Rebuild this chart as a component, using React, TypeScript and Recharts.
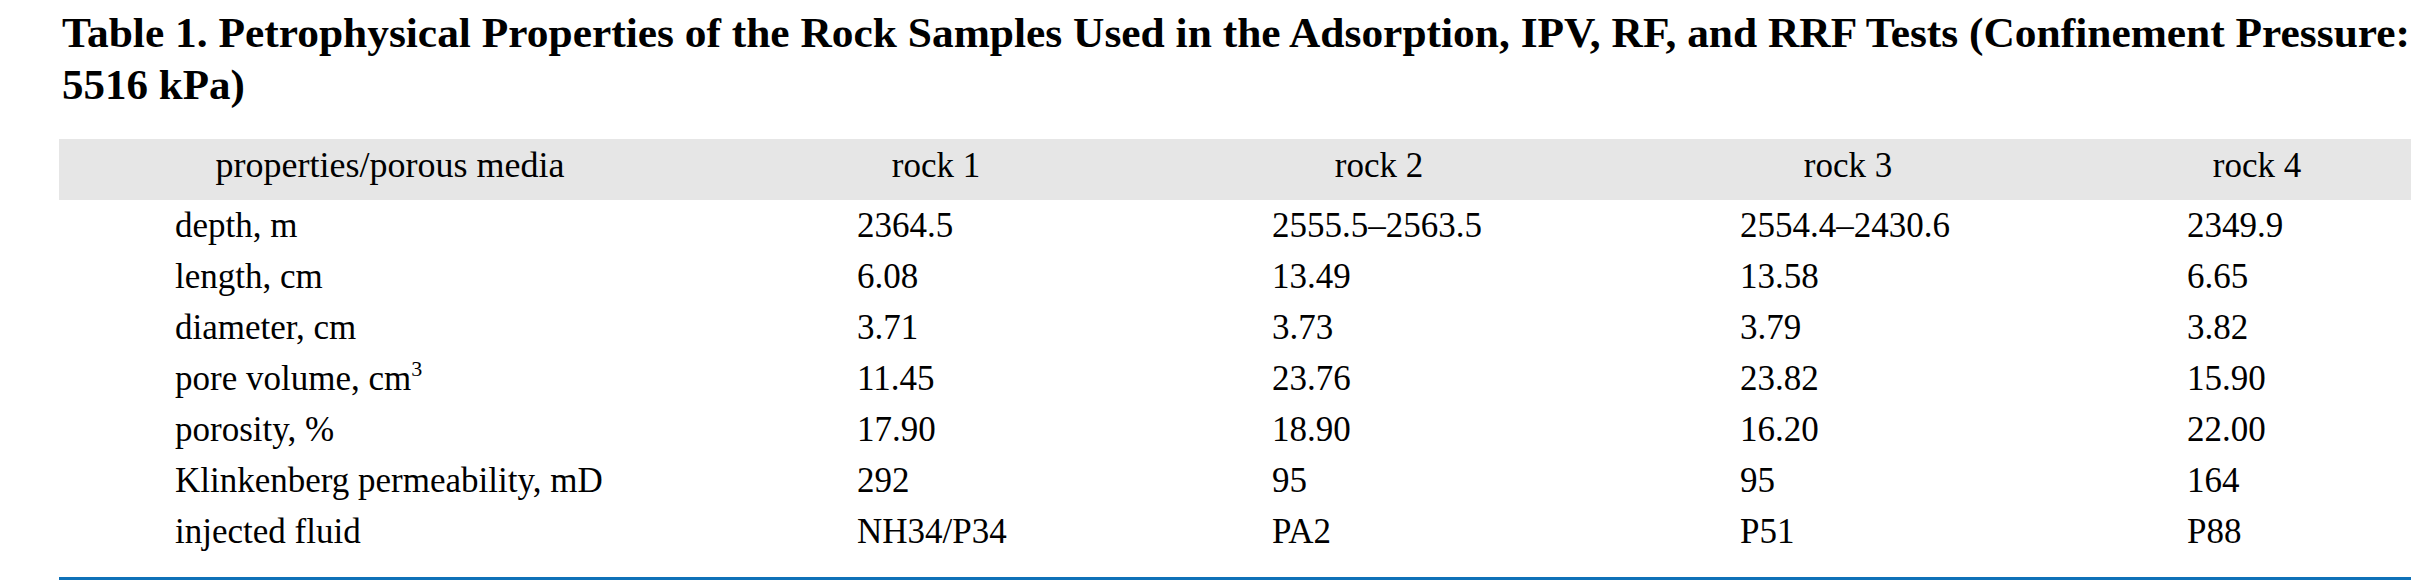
import React from 'react';
import { ComposedChart, Scatter, XAxis, YAxis, Customized } from 'recharts';

// ---- data ----
const TITLE_LINE_1 =
  'Table 1. Petrophysical Properties of the Rock Samples Used in the Adsorption, IPV, RF, and RRF Tests (Confinement Pressure:';
const TITLE_LINE_2 = '5516 kPa)';
const HEADERS = ['properties/porous media', 'rock 1', 'rock 2', 'rock 3', 'rock 4'];
const PROPERTIES = [
  'depth, m',
  'length, cm',
  'diameter, cm',
  'pore volume, cm³',
  'porosity, %',
  'Klinkenberg permeability, mD',
  'injected fluid',
];
const ROCK1 = ['2364.5', '6.08', '3.71', '11.45', '17.90', '292', 'NH34/P34'];
const ROCK2 = ['2555.5–2563.5', '13.49', '3.73', '23.76', '18.90', '95', 'PA2'];
const ROCK3 = ['2554.4–2430.6', '13.58', '3.79', '23.82', '16.20', '95', 'P51'];
const ROCK4 = ['2349.9', '6.65', '3.82', '15.90', '22.00', '164', 'P88'];

// ---- layout ----
const W = 2436;
const H = 586;
const COL_LEFT = [175, 857, 1272, 1740, 2187];
const HEAD_CENTER = [390, 936, 1379, 1848, 2257];
const FONT = "'Liberation Serif', 'Times New Roman', serif";
const COLUMNS = [PROPERTIES, ROCK1, ROCK2, ROCK3, ROCK4];

const renderText = (t: string) => {
  const i = t.indexOf('³');
  if (i < 0) return t;
  return (
    <>
      {t.slice(0, i)}
      <tspan fontSize={22} dy={-14}>3</tspan>
    </>
  );
};

const CellShape = (props: any) => {
  const { cx, cy, payload } = props;
  return (
    <text x={cx} y={cy + 11.5} fontFamily={FONT} fontSize={35} fill="#000" textAnchor="start">
      {renderText(payload.text)}
    </text>
  );
};

const HeaderTick = (props: any) => {
  const { x, index } = props;
  return (
    <text x={x} y={177} fontFamily={FONT} fontSize={index === 0 ? 36 : 35} fill="#000" textAnchor="middle">
      {HEADERS[index]}
    </text>
  );
};

const Decorations = () => (
  <g>
    <text x={62} y={47} fontFamily={FONT} fontWeight="bold" fontSize={43} fill="#000" textLength={2348} lengthAdjust="spacingAndGlyphs">
      {TITLE_LINE_1}
    </text>
    <text x={62} y={99} fontFamily={FONT} fontWeight="bold" fontSize={43} fill="#000">
      {TITLE_LINE_2}
    </text>
    <rect x={59} y={139} width={2352} height={61} fill="#e6e6e6" />
    <rect x={59} y={577} width={2352} height={3} fill="#0f71b8" />
  </g>
);

export default function App() {
  const series = COLUMNS.map((col, c) =>
    col.map((text, row) => ({ x: COL_LEFT[c], row, text }))
  );
  return (
    <div style={{ position: 'absolute', left: 0, top: 0, width: W, height: H, background: '#fff' }}>
      <ComposedChart width={W} height={H} margin={{ top: 170, right: 0, bottom: 29, left: 0 }}>
        <Customized component={<Decorations />} />
        <XAxis
          type="number"
          dataKey="x"
          domain={[0, W]}
          orientation="top"
          height={30}
          ticks={HEAD_CENTER}
          interval={0}
          axisLine={false}
          tickLine={false}
          tick={<HeaderTick />}
        />
        <YAxis type="number" dataKey="row" domain={[-0.5, 6.5]} reversed hide />
        {series.map((d, c) => (
          <Scatter key={c} data={d} dataKey="row" shape={<CellShape />} isAnimationActive={false} />
        ))}
      </ComposedChart>
    </div>
  );
}
